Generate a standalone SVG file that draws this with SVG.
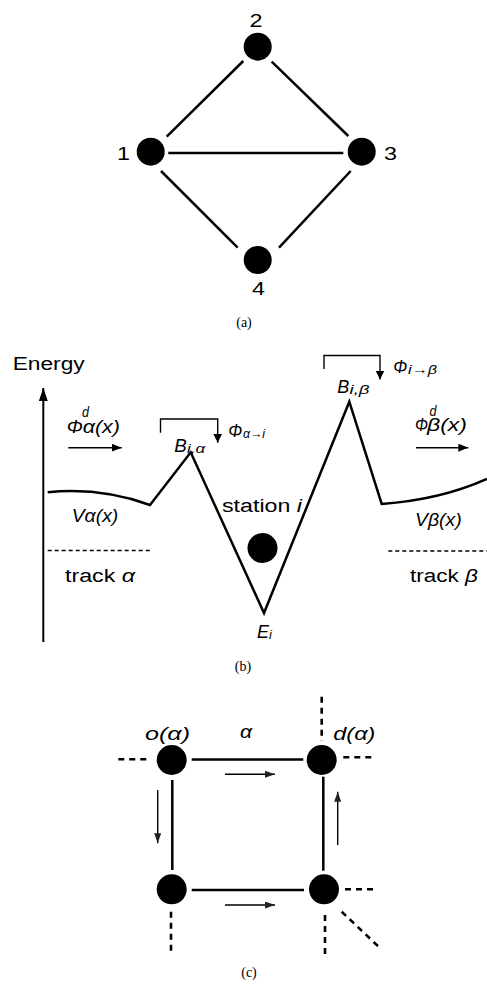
<svg xmlns="http://www.w3.org/2000/svg" width="487" height="994" viewBox="0 0 487 994">
<style>
.t{font-family:"Liberation Sans",Arial,sans-serif;font-size:18px;fill:#000}
.it{font-family:"Liberation Sans",Arial,sans-serif;font-size:18px;font-style:italic;fill:#000}
.sub{font-family:"Liberation Sans",Arial,sans-serif;font-size:13px;font-style:italic;fill:#000}
.cap{font-family:"Liberation Serif","Times New Roman",serif;font-size:14px;fill:#000;text-anchor:middle}
.edge{stroke:#000;stroke-width:2.5;fill:none}
.thin{stroke:#000;stroke-width:1.4;fill:none}
.dash{stroke:#000;stroke-width:1.6;stroke-dasharray:4 3;fill:none}
.cdash{stroke:#000;stroke-width:2.6;stroke-dasharray:6 5;fill:none}
.node{fill:#000}
</style>
<defs>
<marker id="ah" markerUnits="userSpaceOnUse" markerWidth="10" markerHeight="8" refX="10" refY="4" orient="auto"><path d="M0,0 L10,4 L0,8 z" fill="#000"/></marker>
<marker id="ahb" markerUnits="userSpaceOnUse" markerWidth="9" markerHeight="9" refX="9" refY="4.5" orient="auto"><path d="M0,0 L9,4.5 L0,9 z" fill="#000"/></marker>
<marker id="ahax" markerUnits="userSpaceOnUse" markerWidth="13" markerHeight="9" refX="13" refY="4.5" orient="auto"><path d="M0,0 L13,4.5 L0,9 z" fill="#000"/></marker>
<marker id="ahc" markerUnits="userSpaceOnUse" markerWidth="10" markerHeight="7" refX="10" refY="3.5" orient="auto"><path d="M0,0 L10,3.5 L0,7 z" fill="#222"/></marker>
</defs>

<!-- (a) -->
<g id="a-connectors">
<line class="edge" x1="166.7" y1="136.7" x2="243.3" y2="61"/>
<line class="edge" x1="271.7" y1="61.7" x2="348.3" y2="136"/>
<line class="edge" x1="168.3" y1="153" x2="343.3" y2="153"/>
<line class="edge" x1="161" y1="171" x2="237.7" y2="247.7"/>
<line class="edge" x1="350.7" y1="171" x2="279" y2="247.7"/>
</g>
<g id="a-n1"><circle class="node" cx="150.7" cy="151.7" r="14"/><text class="t" x="117" y="160" font-size="19" textLength="13" lengthAdjust="spacingAndGlyphs">1</text></g>
<g id="a-n2"><circle class="node" cx="257.7" cy="46.7" r="14"/><text class="t" x="249.5" y="26.7" font-size="19" textLength="13" lengthAdjust="spacingAndGlyphs">2</text></g>
<g id="a-n3"><circle class="node" cx="361.7" cy="151.7" r="14"/><text class="t" x="384" y="160" font-size="19" textLength="13" lengthAdjust="spacingAndGlyphs">3</text></g>
<g id="a-n4"><circle class="node" cx="257.7" cy="260" r="14"/><text class="t" x="252" y="295" font-size="19" textLength="13" lengthAdjust="spacingAndGlyphs">4</text></g>
<text class="cap" x="244" y="327">(a)</text>

<!-- (b) -->
<g id="b-plot">
<text class="t" x="12.7" y="370" textLength="72" lengthAdjust="spacingAndGlyphs">Energy</text>
<line x1="43.3" y1="642" x2="43.3" y2="388" stroke="#000" stroke-width="2" marker-end="url(#ahax)"/>
<path class="edge" d="M47.7,492.3 Q100,487 150,505 L190.7,452.3 L264,613 L349.3,401.7 L381.7,504 Q440,500 487,479"/>
<line class="dash" x1="47.7" y1="550.5" x2="151.7" y2="550.5"/>
<line class="dash" x1="388.3" y1="551" x2="487" y2="551"/>
<circle class="node" cx="262.5" cy="548" r="15"/>

<text class="it"><tspan x="66.7" y="433.3" textLength="16" lengthAdjust="spacingAndGlyphs">Φ</tspan><tspan x="82" y="416.5" font-size="14" textLength="7" lengthAdjust="spacingAndGlyphs">d</tspan><tspan x="82.7" y="433.3" textLength="37.3" lengthAdjust="spacingAndGlyphs">α(x)</tspan></text>
<line class="thin" x1="68.3" y1="447.7" x2="121.7" y2="447.7" marker-end="url(#ah)"/>

<text class="it"><tspan x="415" y="431" textLength="13" lengthAdjust="spacingAndGlyphs">Φ</tspan><tspan x="429.5" y="415.5" font-size="14" textLength="7" lengthAdjust="spacingAndGlyphs">d</tspan><tspan x="427" y="431" textLength="40" lengthAdjust="spacingAndGlyphs">β(x)</tspan></text>
<line class="thin" x1="416" y1="447.7" x2="468.3" y2="447.7" marker-end="url(#ah)"/>

<polyline class="thin" points="160.5,432.7 160.5,419 217.7,419 217.7,442.7" marker-end="url(#ahb)"/>
<text class="it" x="174.3" y="452.3" textLength="12.5" lengthAdjust="spacingAndGlyphs">B</text>
<text class="sub" x="187" y="453" textLength="18" lengthAdjust="spacingAndGlyphs">i,α</text>
<text class="it" x="228.3" y="436.7" textLength="14" lengthAdjust="spacingAndGlyphs">Φ</text>
<text class="sub" x="243" y="437.5" textLength="22" lengthAdjust="spacingAndGlyphs">α→i</text>

<polyline class="thin" points="324,369 324,355.5 380,355.5 380,379.5" marker-end="url(#ahb)"/>
<text class="it" x="337.3" y="392.7" textLength="12" lengthAdjust="spacingAndGlyphs">B</text>
<text class="sub" x="349.5" y="393.5" textLength="20" lengthAdjust="spacingAndGlyphs">i,β</text>
<text class="it" x="393.3" y="373.3" textLength="14" lengthAdjust="spacingAndGlyphs">Φ</text>
<text class="sub" x="408" y="374" textLength="29" lengthAdjust="spacingAndGlyphs">i→β</text>

<text class="it" x="71.7" y="522" textLength="46.6" lengthAdjust="spacingAndGlyphs">Vα(x)</text>
<text class="it" x="415" y="526" textLength="46.7" lengthAdjust="spacingAndGlyphs">Vβ(x)</text>
<text class="t" x="65" y="581.7" textLength="70" lengthAdjust="spacingAndGlyphs">track <tspan font-style="italic">α</tspan></text>
<text class="t" x="410" y="581.7" textLength="68" lengthAdjust="spacingAndGlyphs">track <tspan font-style="italic">β</tspan></text>
<text class="t" x="222" y="512" textLength="80" lengthAdjust="spacingAndGlyphs">station <tspan font-style="italic">i</tspan></text>
<text class="it" x="257" y="638" textLength="12" lengthAdjust="spacingAndGlyphs">E</text>
<text class="sub" x="269" y="639">i</text>
</g>
<text class="cap" x="243" y="671">(b)</text>

<!-- (c) -->
<g id="c-connectors">
<line class="edge" x1="191.7" y1="759.5" x2="303.3" y2="759.5"/>
<line class="edge" x1="191.7" y1="890" x2="304" y2="890"/>
<line class="edge" x1="172.3" y1="780" x2="172.3" y2="870"/>
<line class="edge" x1="323.3" y1="776.7" x2="323.3" y2="870.7"/>
<line class="cdash" x1="118.3" y1="759.3" x2="150" y2="759.3"/>
<line class="cdash" x1="321.7" y1="696.7" x2="321.7" y2="741"/>
<line class="cdash" x1="343.3" y1="757.3" x2="375" y2="757.3"/>
<line class="cdash" x1="171" y1="911.7" x2="171" y2="955"/>
<line class="cdash" x1="345" y1="889.3" x2="378" y2="889.3"/>
<line class="cdash" x1="325" y1="915" x2="325" y2="956"/>
<line class="cdash" x1="341.7" y1="911.7" x2="381" y2="949"/>
<line class="thin" stroke="#222" x1="225" y1="774.3" x2="275" y2="774.3" marker-end="url(#ahc)"/>
<line class="thin" stroke="#222" x1="225" y1="905" x2="275" y2="905" marker-end="url(#ahc)"/>
<line class="thin" stroke="#222" x1="157.7" y1="790" x2="157.7" y2="843.3" marker-end="url(#ahc)"/>
<line class="thin" stroke="#222" x1="337.7" y1="845" x2="337.7" y2="791.7" marker-end="url(#ahc)"/>
<text class="it" x="240" y="738" textLength="12" lengthAdjust="spacingAndGlyphs">α</text>
</g>
<g id="c-o"><circle class="node" cx="171.7" cy="760" r="15"/><text class="it" x="145" y="740" textLength="45" lengthAdjust="spacingAndGlyphs">o(α)</text></g>
<g id="c-d"><circle class="node" cx="321.7" cy="760" r="15"/><text class="it" x="333.3" y="740" textLength="42" lengthAdjust="spacingAndGlyphs">d(α)</text></g>
<g id="c-bl"><circle class="node" cx="171.7" cy="889.3" r="15"/></g>
<g id="c-br"><circle class="node" cx="324" cy="889.3" r="15"/></g>
<text class="cap" x="249" y="977">(c)</text>
</svg>
